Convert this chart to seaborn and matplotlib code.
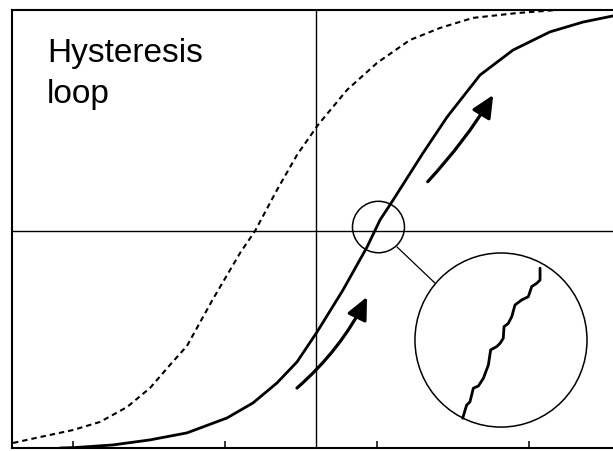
import numpy as np
import pandas as pd
import matplotlib
matplotlib.use("Agg")
import matplotlib.pyplot as plt
from matplotlib.patches import Ellipse, FancyArrowPatch
import seaborn as sns

# Ascending branch of the loop (solid)
h_up = [-1.684, -1.586, -1.336, -1.092, -0.849, -0.586, -0.414, -0.257, -0.125,
        0.007, 0.178, 0.336, 0.421, 0.507, 0.704, 0.862, 1.079, 1.296, 1.539,
        1.757, 1.954]
m_up = [-0.990, -0.988, -0.976, -0.953, -0.921, -0.853, -0.784, -0.693, -0.597,
        -0.460, -0.268, -0.072, 0.051, 0.142, 0.357, 0.521, 0.713, 0.827, 0.910,
        0.955, 0.983]

# Descending branch of the loop (dashed)
h_down = [-1.993, -1.816, -1.599, -1.421, -1.243, -1.092, -0.961, -0.849, -0.678,
          -0.500, -0.401, -0.257, -0.125, 0.013, 0.204, 0.401, 0.618, 0.816,
          1.033, 1.322, 1.586]
m_down = [-0.967, -0.940, -0.908, -0.871, -0.803, -0.716, -0.611, -0.524, -0.310,
          -0.100, 0.001, 0.188, 0.348, 0.485, 0.645, 0.768, 0.873, 0.928, 0.974,
          0.996, 1.010]

# Magnified detail: Barkhausen jumps on the steep part of the curve
h_zoom = [0.965, 0.991, 1.013, 1.035, 1.068, 1.101, 1.134, 1.149, 1.189, 1.211,
          1.232, 1.237, 1.265, 1.288, 1.309, 1.353, 1.397, 1.419, 1.452, 1.474,
          1.474]
m_zoom = [-0.854, -0.794, -0.779, -0.717, -0.707, -0.672, -0.611, -0.542, -0.527,
          -0.512, -0.489, -0.436, -0.421, -0.390, -0.337, -0.314, -0.299, -0.253,
          -0.238, -0.223, -0.169]

field_ticks = [-1.6, -0.6, 0.4, 1.4]

sns.set_theme(style="white")
plt.rcParams["font.family"] = ["Liberation Sans", "DejaVu Sans"]

fig = plt.figure(figsize=(6.13, 4.51), dpi=100)
ax = fig.add_axes([12 / 613, 3 / 451, 608 / 613, 438 / 451])
ax.set_xlim(-2.0, 2.0)
ax.set_ylim(-0.99, 1.01)

# coordinate axes through the origin
ax.axhline(0, color="black", lw=1.0, zorder=1)
ax.axvline(0, color="black", lw=1.0, zorder=1)

up = pd.DataFrame({"H": h_up, "M": m_up})
down = pd.DataFrame({"H": h_down, "M": m_down})
jumps = pd.DataFrame({"H": h_zoom, "M": m_zoom})

sns.lineplot(data=down, x="H", y="M", sort=False, estimator=None, color="black",
             lw=1.5, linestyle=(0, (2.6, 1.9)), ax=ax, zorder=3)
sns.lineplot(data=up, x="H", y="M", sort=False, estimator=None, color="black",
             lw=2.0, ax=ax, zorder=3)
sns.lineplot(data=jumps, x="H", y="M", sort=False, estimator=None, color="black",
             lw=2.0, ax=ax, zorder=3)

# small circle on the curve and its magnified view
ax.add_patch(Ellipse((0.411, 0.019), 0.342, 0.235, fill=False, ec="black", lw=1.1, zorder=2))
ax.add_patch(Ellipse((1.217, -0.497), 1.132, 0.795, fill=False, ec="black", lw=1.1, zorder=2))
ax.plot([0.533, 0.783], [-0.072, -0.237], color="black", lw=0.9, zorder=2)

# direction arrows
for tail, head, rad in [((-0.125, -0.716), (0.336, -0.300), 0.1),
                        ((0.735, 0.226), (1.166, 0.622), 0.05)]:
    ax.add_patch(FancyArrowPatch(tail, head, connectionstyle=f"arc3,rad={rad}",
                                 arrowstyle="-|>,head_length=0.75,head_width=0.35",
                                 mutation_scale=18, color="black", lw=2.3,
                                 shrinkA=0, shrinkB=0, zorder=4))

ax.set_xticks(field_ticks)
ax.set_xticklabels([])
ax.set_yticks([])
ax.tick_params(axis="x", direction="in", length=5, width=1.1, color="black",
               bottom=True, top=False)
ax.set_xlabel("")
ax.set_ylabel("")
for side in ["left", "top", "bottom", "right"]:
    ax.spines[side].set_color("black")
    ax.spines[side].set_linewidth(1.5)

fig.text(47 / 613, 1 - 62 / 451, "Hysteresis", fontsize=24, color="black",
         ha="left", va="baseline")
fig.text(47 / 613, 1 - 103 / 451, "loop", fontsize=24, color="black",
         ha="left", va="baseline")

fig.savefig("out.png", dpi=100, facecolor="white")
